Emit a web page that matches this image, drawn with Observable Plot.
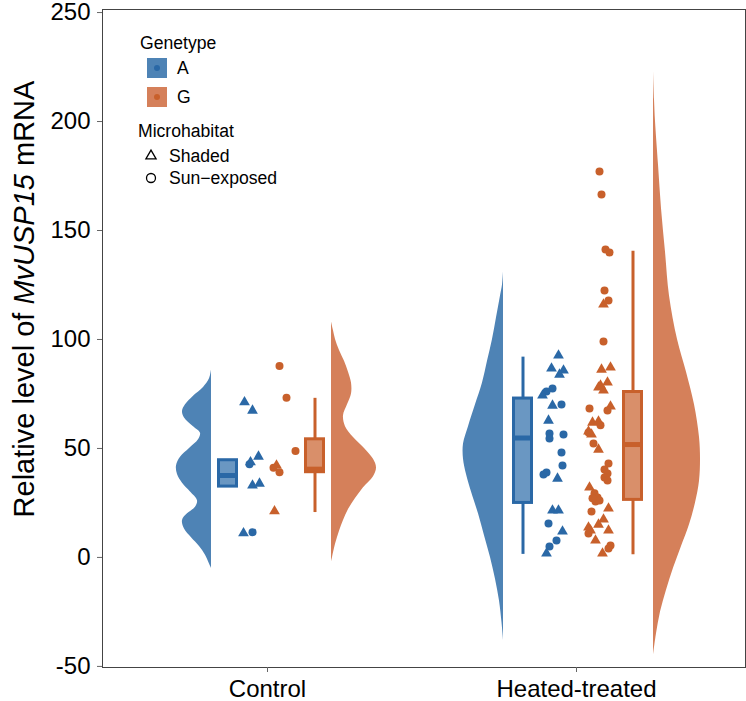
<!DOCTYPE html>
<html><head><meta charset="utf-8">
<script src="https://cdn.jsdelivr.net/npm/d3@7"></script>
<script src="https://cdn.jsdelivr.net/npm/@observablehq/plot@0.6"></script>
<style>
body{margin:0;background:#fff;}
#chart{position:relative;width:746px;height:701px;font-family:"Liberation Sans",Arial,sans-serif;}
</style>
</head><body><div id="chart"></div>
<script>
// ---------------- data ----------------
const treatments = ["Control", "Heated-treated"];
const genotypes = ["A", "G"];
const habitats = ["Shaded", "Sun-exposed"];
const yTicks = [-50, 0, 50, 100, 150, 200, 250];

// Control, genotype A
const ctrlAValues = [71.2, 67.4, 46.3, 42.7, 43.7, 33.0, 33.9, 11.1, 11.6];
const ctrlAHabitat = ["S","S","S","E","S","S","S","S","E"];
const ctrlAJitter = [-23, -15, -9, -18, -17, -15, -8, -24, -15];
// Control, genotype G
const ctrlGValues = [87.8, 73.3, 48.8, 42.2, 41.1, 39.1, 21.2];
const ctrlGHabitat = ["E","E","E","S","E","E","S"];
const ctrlGJitter = [12, 19, 28, 9, 6, 12, 7];
// Heated-treated, genotype A
const heatAValues = [92.7, 86.7, 85.8, 83.9, 77.5, 76.1, 74.3, 69.7, 70.2, 62.8, 56.9, 54.6, 56.4, 48.2, 42.2, 38.1, 39.0, 36.2, 21.6, 21.6, 15.6, 11.9, 7.8, 5.0, 1.8];
const heatAHabitat = ["S","S","S","S","E","E","S","S","E","S","E","E","E","E","E","E","E","S","S","S","E","S","E","E","S"];
const heatAJitter = [-18, -25, -13, -17, -24, -30, -34, -24, -15, -28, -27, -27, -13, -15, -14, -33, -30, -19, -24, -18, -28, -14, -20, -27, -30];
// Heated-treated, genotype G
const heatGValues = [177.1, 166.5, 141.3, 139.9, 122.5, 117.9, 116.1, 99.1, 86.2, 87.2, 80.3, 78.0, 76.6, 78.9, 68.3, 69.3, 67.4, 61.9, 62.4, 60.6, 57.8, 56.4, 57.3, 52.3, 49.5, 43.1, 40.4, 38.5, 36.7, 35.3, 32.1, 29.4, 27.5, 25.7, 26.1, 27.1, 22.5, 21.1, 17.4, 15.1, 13.8, 12.4, 11.0, 12.4, 7.8, 5.5, 4.1, 1.8];
const heatGHabitat = ["E","E","E","E","E","E","S","E","S","S","S","S","S","S","E","S","E","S","S","E","S","S","E","E","S","E","E","E","E","E","S","E","E","E","E","E","S","E","S","S","S","S","E","S","S","E","E","S"];
const heatGJitter = [23, 25, 29, 33, 28, 32, 27, 27, 25, 34, 31, 22, 27, 24, 13, 34, 31, 16, 22, 24, 12, 15, 12, 17, 22, 32, 28, 31, 28, 31, 13, 18, 21, 19, 23, 16, 32, 15, 27, 22, 12, 14, 12, 32, 19, 34, 32, 26];

// Box statistics (order: Control A, Control G, Heated A, Heated G)
const boxQ1  = [32.5, 39.1, 25.0, 26.4];
const boxMed = [37.6, 40.5, 54.8, 51.8];
const boxQ3  = [44.6, 54.2, 72.9, 75.9];
const boxLo  = [32.5, 20.6, 1.4, 1.2];
const boxHi  = [44.6, 73.0, 91.9, 140.5];

// Half-violin density profiles: [value, density (arbitrary units)]
const ctrlAViolin = [[86,0],[82,2],[78,8],[74,18],[70,26],[67,29],[64,27],[60,18],[57,11],[54,13],[50,22],[46,31],[42,35],[38,34],[34,29],[30,21],[26,14],[23,16],[20,24],[17,29],[13,27],[9,20],[5,12],[1,6],[-3,2],[-5,0]];
const ctrlGViolin = [[108,0],[104,2],[100,4],[95,8],[90,13],[85,17],[80,20],[75,20],[70,16],[65,12],[60,14],[55,22],[50,33],[45,42],[41,45],[37,42],[32,32],[27,24],[22,17],[17,12],[12,8],[6,4],[0,1],[-2,0]];
const heatAViolin = [[131,0],[125,1],[120,3],[110,7],[100,11],[90,16],[80,21],[70,28],[60,35],[52,40],[45,40],[38,37],[30,32],[20,25],[10,19],[0,13],[-10,8],[-20,4],[-30,1.5],[-38,0]];
const heatGViolin = [[223,0],[210,1],[200,2],[180,5],[160,8],[140,12],[120,16],[100,24],[85,33],[70,41],[55,46],[45,47],[35,46],[25,42],[15,36],[5,28],[-5,20],[-15,13],[-25,7],[-35,3],[-45,0]];

// ---------------- layout & style ----------------
const PX = 1 / 309; // x units per pixel
const dark = {A: "#2a68a6", G: "#c8602b"};
const violinFill = {A: "#4e83b5", G: "#d5805a"};
const boxFill = {A: "#6a97c2", G: "#d98f6a"};

const groups = [
  {t: 0, g: "A", values: ctrlAValues, hab: ctrlAHabitat, jit: ctrlAJitter, violin: ctrlAViolin, edge: -56, dir: -1, box: -39.5},
  {t: 0, g: "G", values: ctrlGValues, hab: ctrlGHabitat, jit: ctrlGJitter, violin: ctrlGViolin, edge: 64, dir: 1, box: 47.5},
  {t: 1, g: "A", values: heatAValues, hab: heatAHabitat, jit: heatAJitter, violin: heatAViolin, edge: -73, dir: -1, box: -53.5},
  {t: 1, g: "G", values: heatGValues, hab: heatGHabitat, jit: heatGJitter, violin: heatGViolin, edge: 77, dir: 1, box: 56.5}
];

const points = groups.flatMap(gr => gr.values.map((v, i) => ({
  treatment: treatments[gr.t], genotype: gr.g, value: v,
  habitat: gr.hab[i] === "S" ? "Shaded" : "Sun-exposed",
  x: gr.t + 1 + gr.jit[i] * PX
})));

const violins = groups.flatMap((gr, k) => gr.violin.map(([v, d]) => ({
  id: k, genotype: gr.g, value: v,
  x1: gr.t + 1 + gr.edge * PX,
  x2: gr.t + 1 + (gr.edge + gr.dir * d) * PX
})));

const boxes = groups.map((gr, k) => ({
  genotype: gr.g,
  xc: gr.t + 1 + gr.box * PX,
  x1: gr.t + 1 + (gr.box - 9) * PX,
  x2: gr.t + 1 + (gr.box + 9) * PX,
  q1: boxQ1[k], med: boxMed[k], q3: boxQ3[k], lo: boxLo[k], hi: boxHi[k]
}));

const font = '"Liberation Sans", Arial, sans-serif';

const chart = Plot.plot({
  width: 746, height: 701,
  marginLeft: 102, marginRight: 1, marginTop: 9, marginBottom: 34,
  style: {fontFamily: font, background: "#fff", color: "#000"},
  x: {domain: [1 - 165 * PX, 2 + 169 * PX]},
  y: {domain: [-50.5, 251.4]},
  symbol: {domain: habitats, range: ["triangle", "circle"]},
  marks: [
    ...groups.map((gr, k) => Plot.areaX(violins.filter(d => d.id === k), {
      y: "value", x1: "x1", x2: "x2", fill: violinFill[gr.g], curve: "catmull-rom"
    })),
    Plot.ruleX(boxes, {x: "xc", y1: "lo", y2: "hi", stroke: d => dark[d.genotype], strokeWidth: 3}),
    Plot.rect(boxes, {x1: "x1", x2: "x2", y1: "q1", y2: "q3", fill: d => boxFill[d.genotype], stroke: d => dark[d.genotype], strokeWidth: 3}),
    Plot.ruleY(boxes, {y: "med", x1: "x1", x2: "x2", stroke: d => dark[d.genotype], strokeWidth: 5}),
    Plot.dot(points, {x: "x", y: "value", symbol: "habitat", r: 4, fill: d => dark[d.genotype], stroke: "none"}),
    Plot.frame({stroke: "#444", strokeWidth: 1}),
    Plot.axisY({ticks: yTicks, tickFormat: d => String(d), tickSize: 5, tickPadding: 7, fontSize: 24, label: null, stroke: "#666"}),
    Plot.axisX({ticks: [1, 2], tickFormat: d => treatments[d - 1], tickSize: 5, tickPadding: 7, fontSize: 24, label: null, stroke: "#666"})
  ]
});

document.getElementById("chart").appendChild(chart);

// y-axis title with italic gene name
const svg = d3.select(chart);
const yt = svg.append("text")
  .attr("transform", "translate(34,299) rotate(-90)")
  .attr("text-anchor", "middle")
  .attr("font-family", font).attr("font-size", 29).attr("fill", "#000");
yt.append("tspan").text("Relative level of ");
yt.append("tspan").attr("font-style", "italic").text("MvUSP15");
yt.append("tspan").text(" mRNA");

// legend
const lg = svg.append("g").attr("font-family", font).attr("font-size", 17.6).attr("fill", "#000").attr("text-anchor", "start");
lg.append("text").attr("x", 140).attr("y", 49).text("Genetype");
genotypes.forEach((g, i) => {
  const cy = 68 + i * 29;
  lg.append("rect").attr("x", 147).attr("y", cy - 10).attr("width", 20).attr("height", 20).attr("fill", violinFill[g]);
  lg.append("circle").attr("cx", 157).attr("cy", cy).attr("r", 3).attr("fill", dark[g]);
  lg.append("text").attr("x", 177).attr("y", cy + 6.3).text(g);
});
lg.append("text").attr("x", 138).attr("y", 137).text("Microhabitat");
habitats.forEach((h, i) => {
  const cy = 156 + i * 22;
  if (h === "Shaded") {
    lg.append("path").attr("d", d3.symbol(d3.symbolTriangle, 45)()).attr("transform", `translate(151,${cy})`)
      .attr("fill", "none").attr("stroke", "#000").attr("stroke-width", 1.3);
  } else {
    lg.append("circle").attr("cx", 151).attr("cy", cy).attr("r", 4.5).attr("fill", "none").attr("stroke", "#000").attr("stroke-width", 1.3);
  }
  lg.append("text").attr("x", 169).attr("y", cy + 6.3).text(h === "Sun-exposed" ? "Sun\u2212exposed" : h);
});
</script>
</body></html>
